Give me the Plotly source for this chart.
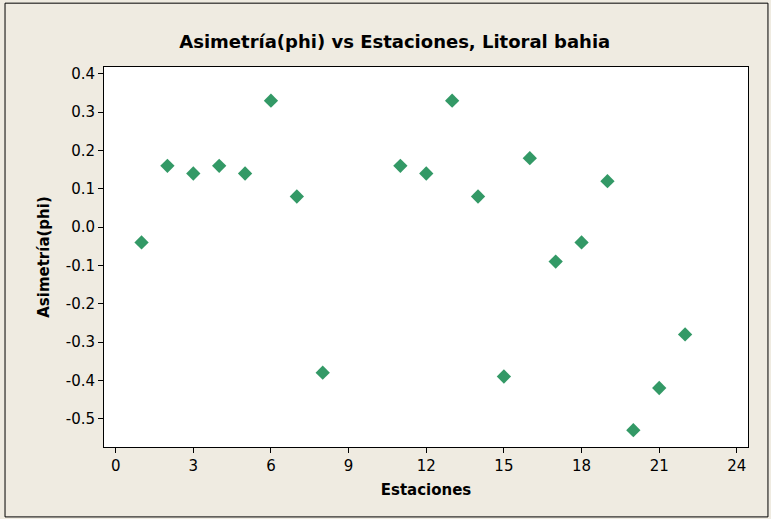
import plotly.graph_objects as go

# Asimetría (phi) por estación
estaciones = [1, 2, 3, 4, 5, 6, 7, 8, 11, 12, 13, 14, 15, 16, 17, 18, 19, 20, 21, 22]
asimetria = [-0.04, 0.16, 0.14, 0.16, 0.14, 0.33, 0.08, -0.38, 0.16, 0.14,
             0.33, 0.08, -0.39, 0.18, -0.09, -0.04, 0.12, -0.53, -0.42, -0.28]

x_ticks = [0, 3, 6, 9, 12, 15, 18, 21, 24]
y_ticks = [0.4, 0.3, 0.2, 0.1, 0.0, -0.1, -0.2, -0.3, -0.4, -0.5]

bg = "#EFEBE1"
font_family = "DejaVu Sans"

fig = go.Figure()
fig.add_trace(go.Scatter(
    x=estaciones, y=asimetria, mode="markers",
    marker=dict(symbol="diamond", size=11, color="#339966",
                line=dict(width=0)),
))

axis_common = dict(
    showline=True, linecolor="black", linewidth=1, mirror=True,
    ticks="outside", ticklen=5, tickcolor="black", tickwidth=1,
    showgrid=False, zeroline=False,
    tickfont=dict(family=font_family, size=15, color="black"),
)

fig.update_layout(
    width=771, height=519,
    paper_bgcolor=bg, plot_bgcolor="white",
    margin=dict(l=104, r=23, t=67, b=72),
    showlegend=False,
    title=dict(
        text="<b>Asimetría(phi) vs Estaciones, Litoral bahia</b>",
        x=0.512, xanchor="center", y=0.92, yanchor="middle",
        font=dict(family=font_family, size=18, color="black"),
    ),
    xaxis=dict(
        axis_common, range=[-0.45, 24.43], tickvals=x_ticks,
        title=dict(text="<b>Estaciones</b>", standoff=10,
                   font=dict(family=font_family, size=15, color="black")),
    ),
    yaxis=dict(
        axis_common, range=[-0.574, 0.418], tickvals=y_ticks,
        ticktext=[f"{v:.1f}" for v in y_ticks],
        title=dict(text="<b>Asimetría(phi)</b>", standoff=12,
                   font=dict(family=font_family, size=15, color="black")),
    ),
)

# outer frame around the whole graph
fig.add_shape(type="rect", xref="paper", yref="paper",
              x0=-0.1537, x1=1.031, y0=-0.184, y1=1.168,
              line=dict(color="black", width=1), layer="below")

fig.write_html("out.html", config={"displayModeBar": False},
               post_script="document.body.style.margin='0';")
